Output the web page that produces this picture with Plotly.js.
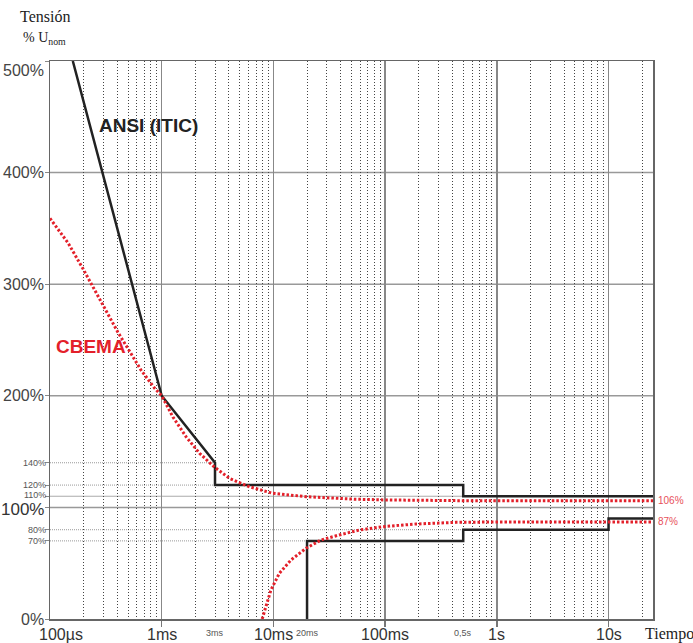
<!DOCTYPE html>
<html><head><meta charset="utf-8">
<script src="https://cdn.plot.ly/plotly-3.0.1.min.js"></script>
<style>html,body{margin:0;padding:0;background:#fff}#chart{width:693px;height:643px}</style>
</head><body><div id="chart"></div>
<script>
// ANSI (ITIC) tolerance curve (time in seconds, voltage in % of nominal)
const ansiUpperT = [1.6e-4, 1e-3, 3e-3, 3e-3, 0.5, 0.5, 25];
const ansiUpperV = [500, 200, 140, 120, 120, 110, 110];
const ansiLowerT = [0.02, 0.02, 0.5, 0.5, 10, 10, 25];
const ansiLowerV = [0, 70, 70, 80, 80, 90, 90];
// CBEMA curve
const cbemaUpperT = [1e-4, 1.45e-4, 1.97e-4, 2.5e-4, 3.18e-4, 4.05e-4, 5.15e-4, 6.53e-4, 8.61e-4, 1e-3, 1.26e-3, 1.66e-3, 2.18e-3, 2.97e-3, 4.05e-3, 6.1e-3, 9.9e-3, 1.96e-2, 5.47e-2, 0.1, 0.5, 25];
const cbemaUpperV = [359, 337, 314, 295, 277, 257, 240, 223, 207, 200, 181, 163, 148.5, 136, 126, 118.5, 112.6, 109.6, 107.3, 106.7, 106, 106];
const cbemaLowerT = [7.93e-3, 8.6e-3, 9.5e-3, 1.13e-2, 1.44e-2, 1.96e-2, 2.67e-2, 3.88e-2, 5.86e-2, 9.46e-2, 0.188, 0.428, 1.2, 25];
const cbemaLowerV = [0, 11, 26, 41, 53, 63.4, 70.8, 75.3, 79.7, 82.7, 85.1, 86.6, 87, 87];
const cbemaLevels = [106, 87];
const cbemaLevelLabels = ['106%', '87%'];
// axis labels
const xMajorVals = [1e-4, 1e-3, 1e-2, 0.1, 1, 10];
const xMajorText = ['100µs', '1ms', '10ms', '100ms', '1s', '10s'];
const xSmallVals = [3e-3, 0.02, 0.5];
const xSmallText = ['3ms', '20ms', '0,5s'];
const yMajorVals = [0, 100, 200, 300, 400, 500];
const yMajorText = ['0%', '100%', '200%', '300%', '400%', '500%'];
const ySmallVals = [140, 120, 110, 80, 70];
const ySmallText = ['140%', '120%', '110%', '80%', '70%'];
const ySmallEnd = [3e-3, 3e-3, 0.5, 0.5, 0.02];

const X_MIN = 1e-4, X_MAX = 25;
const SANS = 'Liberation Sans, Arial, sans-serif';
const SERIF = 'Liberation Serif, Times New Roman, serif';
const RED = '#e3202a';
const LABEL_Y = -0.027;

// minor (2..9) log grid positions
const minorVals = [];
for (let d = -4; d <= 1; d++) {
  for (let m = 2; m <= 9; m++) {
    const v = m * Math.pow(10, d);
    if (v < X_MAX) minorVals.push(v);
  }
}

const traces = [
  {x: ansiUpperT, y: ansiUpperV, mode: 'lines', line: {color: '#222', width: 2.5}, hoverinfo: 'skip'},
  {x: ansiLowerT, y: ansiLowerV, mode: 'lines', line: {color: '#222', width: 2.5}, hoverinfo: 'skip'},
  {x: cbemaUpperT, y: cbemaUpperV, mode: 'lines', line: {color: RED, width: 3, dash: '2.5px,2px'}, hoverinfo: 'skip'},
  {x: cbemaLowerT, y: cbemaLowerV, mode: 'lines', line: {color: RED, width: 3, dash: '2.5px,2px'}, hoverinfo: 'skip'}
];

const shapes = [];
[100, 200, 300, 400].forEach(v => shapes.push({type: 'line', xref: 'paper', x0: 0, x1: 1, yref: 'y', y0: v, y1: v, line: {color: '#999', width: 1.5}, layer: 'below'}));
ySmallVals.forEach((v, i) => shapes.push({type: 'line', xref: 'x', x0: X_MIN, x1: ySmallEnd[i], yref: 'y', y0: v, y1: v,
  line: {color: v === 110 ? '#aaa' : '#999', width: 1, dash: v === 110 ? 'solid' : '1px,1px'}, layer: 'below'}));

const annotations = [];
yMajorVals.forEach((v, i) => annotations.push({xref: 'paper', x: 0, xanchor: 'right', xshift: -4, yref: 'y', y: v, yanchor: 'middle',
  yshift: v === 500 ? -9 : (v === 100 ? -2 : 0), showarrow: false, text: yMajorText[i],
  font: {family: SANS, size: v === 100 ? 17 : 16, color: v === 100 ? '#333' : '#444'}}));
ySmallVals.forEach((v, i) => annotations.push({xref: 'paper', x: 0, xanchor: 'right', xshift: -2, yref: 'y', y: v, yanchor: 'middle',
  yshift: v === 110 ? 1 : 0, showarrow: false, text: ySmallText[i], font: {family: SANS, size: 9, color: '#555'}}));
xMajorVals.forEach((v, i) => annotations.push({xref: 'x', x: Math.log10(v), xanchor: 'center', xshift: i === 0 ? 11 : 0,
  yref: 'paper', y: LABEL_Y, yanchor: 'middle', showarrow: false, text: xMajorText[i], font: {family: SANS, size: 16, color: '#333'}}));
xSmallVals.forEach((v, i) => annotations.push({xref: 'x', x: Math.log10(v), xanchor: 'center', yref: 'paper', y: LABEL_Y, yanchor: 'middle',
  yshift: 1, showarrow: false, text: xSmallText[i], font: {family: SANS, size: 9, color: '#555'}}));
cbemaLevels.forEach((v, i) => annotations.push({xref: 'paper', x: 1, xanchor: 'left', xshift: 3, yref: 'y', y: v, yanchor: 'middle',
  showarrow: false, text: cbemaLevelLabels[i], font: {family: SANS, size: 10, color: '#e8505a'}}));
annotations.push({xref: 'x', x: Math.log10(2.63e-4), xanchor: 'left', yref: 'y', y: 442, yanchor: 'middle', showarrow: false,
  text: '<b>ANSI (ITIC)</b>', font: {family: SANS, size: 19, color: '#222'}});
annotations.push({xref: 'x', x: Math.log10(1.09e-4), xanchor: 'left', yref: 'y', y: 244, yanchor: 'middle', showarrow: false,
  text: '<b>CBEMA</b>', font: {family: SANS, size: 19, color: RED}});
annotations.push({xref: 'paper', x: -0.053, xanchor: 'left', yref: 'paper', y: 1.079, yanchor: 'middle', showarrow: false,
  text: 'Tensión', font: {family: SERIF, size: 16, color: '#222'}});
annotations.push({xref: 'paper', x: -0.048, xanchor: 'left', yref: 'paper', y: 1.041, yanchor: 'middle', showarrow: false,
  text: '% U<sub>nom</sub>', font: {family: SERIF, size: 14, color: '#222'}});
annotations.push({xref: 'paper', x: 0.983, xanchor: 'left', yref: 'paper', y: LABEL_Y, yanchor: 'middle', showarrow: false,
  text: 'Tiempo', font: {family: SERIF, size: 16, color: '#222'}});

const layout = {
  width: 693, height: 643,
  margin: {l: 50, r: 40, t: 61, b: 24},
  paper_bgcolor: '#fff', plot_bgcolor: '#fff',
  showlegend: false,
  xaxis: {
    type: 'log', range: [Math.log10(X_MIN), Math.log10(X_MAX)],
    tickmode: 'array', tickvals: xMajorVals.slice(1), showticklabels: false,
    ticks: 'outside', ticklen: 6, tickcolor: '#777', tickwidth: 1.5,
    showgrid: true, gridcolor: '#888', gridwidth: 1.5,
    minor: {tickmode: 'array', tickvals: minorVals, showgrid: true, gridcolor: '#444', gridwidth: 1, griddash: '1px,2px', ticks: ''},
    showline: true, mirror: true, linecolor: '#666', linewidth: 1.5, zeroline: false
  },
  yaxis: {
    range: [0, 500], tickmode: 'array', tickvals: [0, 70, 80, 100, 110, 120, 140, 200, 300, 400, 500],
    ticks: 'outside', ticklen: 4, tickcolor: '#888', showticklabels: false,
    showgrid: false, showline: true, mirror: true, linecolor: '#666', linewidth: 1.5, zeroline: false
  },
  shapes: shapes,
  annotations: annotations
};

Plotly.newPlot('chart', traces, layout, {staticPlot: true, displayModeBar: false});
</script>
</body></html>
